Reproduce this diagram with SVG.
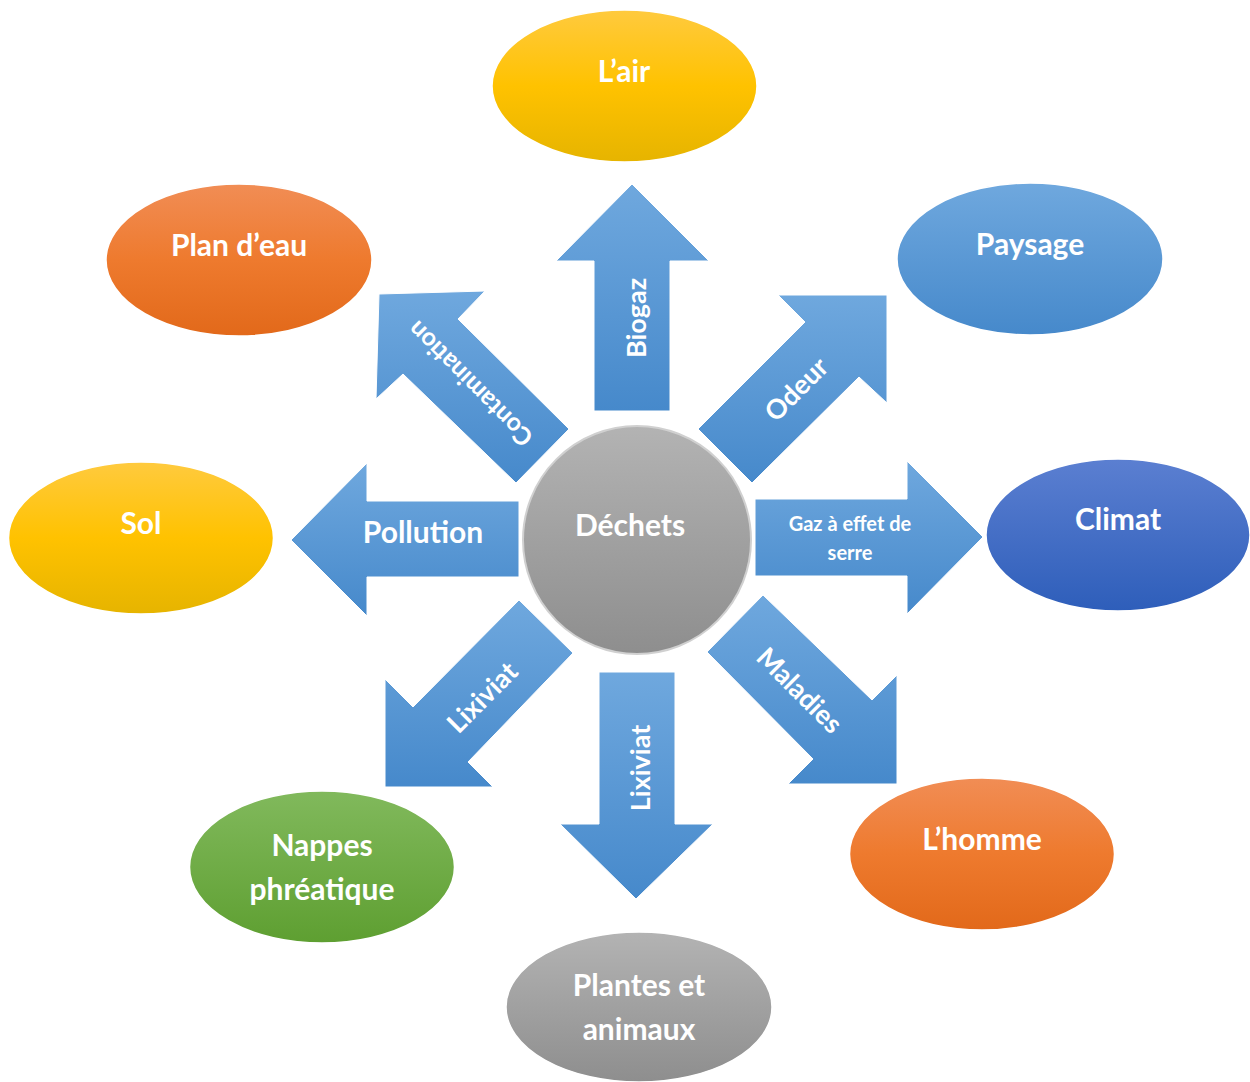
<svg xmlns="http://www.w3.org/2000/svg" width="1250" height="1082" viewBox="0 0 1250 1082">
  <defs>
    <linearGradient id="gArrow" x1="0" y1="0" x2="0" y2="1">
      <stop offset="0" stop-color="#6FA8DE"/>
      <stop offset="1" stop-color="#4689CB"/>
    </linearGradient>
    <linearGradient id="gYellow" x1="0" y1="0" x2="0" y2="1">
      <stop offset="0" stop-color="#FFCA3E"/>
      <stop offset="0.5" stop-color="#FFC200"/>
      <stop offset="1" stop-color="#E6B400"/>
    </linearGradient>
    <linearGradient id="gOrange" x1="0" y1="0" x2="0" y2="1">
      <stop offset="0" stop-color="#F18D55"/>
      <stop offset="0.5" stop-color="#EE7A2E"/>
      <stop offset="1" stop-color="#E2691A"/>
    </linearGradient>
    <linearGradient id="gBlue" x1="0" y1="0" x2="0" y2="1">
      <stop offset="0" stop-color="#6FA8DE"/>
      <stop offset="1" stop-color="#4689CB"/>
    </linearGradient>
    <linearGradient id="gDark" x1="0" y1="0" x2="0" y2="1">
      <stop offset="0" stop-color="#5B7FD1"/>
      <stop offset="1" stop-color="#2E5EBA"/>
    </linearGradient>
    <linearGradient id="gGreen" x1="0" y1="0" x2="0" y2="1">
      <stop offset="0" stop-color="#81B95C"/>
      <stop offset="1" stop-color="#5E9F31"/>
    </linearGradient>
    <linearGradient id="gGray" x1="0" y1="0" x2="0" y2="1">
      <stop offset="0" stop-color="#B3B3B3"/>
      <stop offset="1" stop-color="#8E8E8E"/>
    </linearGradient>
  </defs>
  <style>
    text { font-family: Lato, "Open Sans", "Liberation Sans", sans-serif; font-weight: bold; fill: #ffffff; text-anchor: middle; }
    .big { font-size: 30px; }
    .arr { font-size: 27px; }
    .small { font-size: 20px; }
    .arrow { fill: url(#gArrow); stroke: #ffffff; stroke-width: 1; }
    .node { stroke: #ffffff; stroke-width: 1.5; }
  </style>
  <rect width="1250" height="1082" fill="#ffffff"/>

  <g id="connectors">
    <g id="arrow-biogaz">
      <polygon class="arrow" points="594,411 594,261 556,261 632,184 709,261 670,261 670,411"/>
      <text class="arr" transform="translate(636,318) rotate(-90)" y="10">Biogaz</text>
    </g>
    <g id="arrow-lixiviat-bas">
      <polygon class="arrow" points="599,672 675,672 675,824 713,824 636,899 560,824 599,824"/>
      <text class="arr" transform="translate(640,768) rotate(-90)" y="10">Lixiviat</text>
    </g>
    <g id="arrow-pollution">
      <polygon class="arrow" points="519,501 367,501 367,463 291,540 367,616 367,577 519,577"/>
      <text class="big" x="423" y="543">Pollution</text>
    </g>
    <g id="arrow-gaz">
      <polygon class="arrow" points="755,499 907,499 907,461 983,537 907,614 907,576 755,576"/>
      <text class="small" x="850" y="531">Gaz à effet de</text>
      <text class="small" x="850" y="560">serre</text>
    </g>
    <g id="arrow-contamination">
      <polygon class="arrow" points="569,429 458,319 485,291 379,294 376,399 403,374 516,483"/>
      <text class="arr" style="font-size:25px" transform="translate(470,384) rotate(225)" y="9">Contamination</text>
    </g>
    <g id="arrow-odeur">
      <polygon class="arrow" points="698,429 805,322 778,295 887,295 887,403 859,377 752,483"/>
      <text class="arr" transform="translate(796,389) rotate(-45)" y="10">Odeur</text>
    </g>
    <g id="arrow-lixiviat-diag">
      <polygon class="arrow" points="519,600 573,653 468,762 493,787 385,787 385,679 413,707"/>
      <text class="arr" transform="translate(482,697) rotate(-45)" y="10">Lixiviat</text>
    </g>
    <g id="arrow-maladies">
      <polygon class="arrow" points="763,595 872,700 897,675 897,784 788,784 813,759 707,652"/>
      <text class="arr" transform="translate(800,690) rotate(45)" y="10">Maladies</text>
    </g>
  </g>

  <g id="node-dechets">
    <circle cx="637" cy="540" r="114" fill="url(#gGray)" stroke="#d0d0d0" stroke-width="2"/>
    <text class="big" x="630" y="536">Déchets</text>
  </g>
  <g id="node-air">
    <ellipse class="node" cx="624.5" cy="86" rx="132.5" ry="76" fill="url(#gYellow)"/>
    <text class="big" x="624" y="82">L’air</text>
  </g>
  <g id="node-paysage">
    <ellipse class="node" cx="1030" cy="259" rx="133" ry="76" fill="url(#gBlue)"/>
    <text class="big" x="1030" y="255">Paysage</text>
  </g>
  <g id="node-climat">
    <ellipse class="node" cx="1118" cy="535" rx="132" ry="76" fill="url(#gDark)"/>
    <text class="big" x="1118" y="530">Climat</text>
  </g>
  <g id="node-homme">
    <ellipse class="node" cx="982" cy="854" rx="132.5" ry="76" fill="url(#gOrange)"/>
    <text class="big" x="982" y="850">L’homme</text>
  </g>
  <g id="node-plantes">
    <ellipse class="node" cx="639" cy="1007" rx="133" ry="75" fill="url(#gGray)"/>
    <text class="big" x="639" y="996">Plantes et</text>
    <text class="big" x="639" y="1040">animaux</text>
  </g>
  <g id="node-nappes">
    <ellipse class="node" cx="322" cy="867" rx="132.5" ry="76" fill="url(#gGreen)"/>
    <text class="big" x="322" y="856">Nappes</text>
    <text class="big" x="322" y="900">phréatique</text>
  </g>
  <g id="node-sol">
    <ellipse class="node" cx="141" cy="538" rx="132.5" ry="76" fill="url(#gYellow)"/>
    <text class="big" x="141" y="534">Sol</text>
  </g>
  <g id="node-plan-eau">
    <ellipse class="node" cx="239" cy="260" rx="133" ry="76" fill="url(#gOrange)"/>
    <text class="big" x="239" y="256">Plan d’eau</text>
  </g>
</svg>
